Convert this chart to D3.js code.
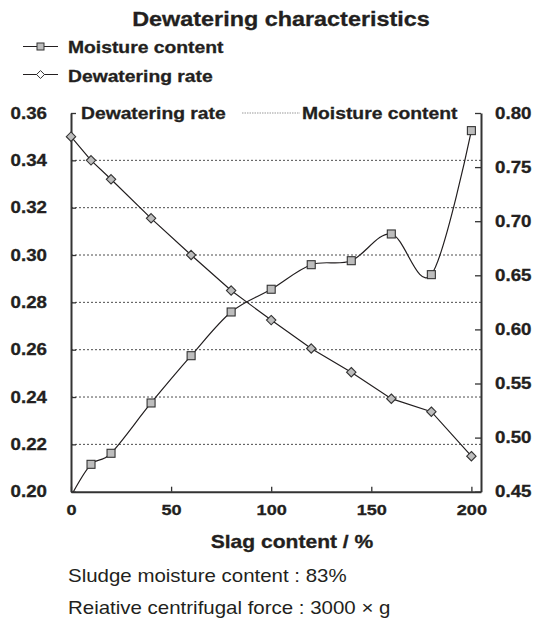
<!DOCTYPE html>
<html lang="en">

<head>
    <meta charset="UTF-8">
    <title>Dewatering characteristics</title>
    <script src="https://d3js.org/d3.v7.min.js"></script>
    <style>
        body { margin: 0; background: #fff; }
        text { font-family: "Liberation Sans", Arial, sans-serif; fill: #231f20; }
        text.b { stroke: #231f20; stroke-width: 0.3px; }
    </style>
</head>

<body>
    <div id="chart"></div>

    <script>
        // slag content (%) for each measurement
        var slag = [0, 10, 20, 40, 60, 80, 100, 120, 140, 160, 180, 200];
        // dewatering rate, left axis
        var dewateringRate = [0.350, 0.340, 0.332, 0.3155, 0.300, 0.285, 0.2725, 0.2605, 0.2505, 0.2393, 0.2338, 0.2150];
        // moisture content, right axis (first point falls below the axis and is clipped)
        var moistureSlag = [0, 10, 20, 40, 60, 80, 100, 120, 140, 160, 180, 200];
        var moisture = [0.446, 0.4753, 0.4855, 0.532, 0.5757, 0.6161, 0.6371, 0.6598, 0.6635, 0.6882, 0.6506, 0.7837];

        var xTicks = [0, 50, 100, 150, 200];
        var leftTicks = [0.20, 0.22, 0.24, 0.26, 0.28, 0.30, 0.32, 0.34, 0.36];
        var gridTicks = [0.22, 0.24, 0.26, 0.28, 0.30, 0.32, 0.34];
        var rightTicks = [0.45, 0.50, 0.55, 0.60, 0.65, 0.70, 0.75, 0.80];

        var W = 533, H = 621;
        var pLeft = 71, pRight = 481, pTop = 113, pBottom = 491.7;
        var SX = 1.17; // horizontal stretch of the lettering in the source

        var svg = d3.select("#chart").append("svg")
            .attr("width", W)
            .attr("height", H);

        svg.append("rect").attr("width", W).attr("height", H).attr("fill", "#fff");

        var x = d3.scaleLinear().domain([0, 204.8]).range([pLeft, pRight]);
        var yL = d3.scaleLinear().domain([0.20, 0.36]).range([pBottom, pTop]);
        var yR = d3.scaleLinear().domain([0.45, 0.80]).range([pBottom, pTop]);

        function label(px, py, txt, size, weight, anchor) {
            return svg.append("text")
                .attr("class", weight === "normal" ? null : "b")
                .attr("transform", "translate(" + px + "," + py + ") scale(" + SX + ",1)")
                .attr("font-size", size)
                .attr("font-weight", weight || "bold")
                .attr("text-anchor", anchor || "start")
                .text(txt);
        }

        // title and legend
        label(281, 26, "Dewatering characteristics", 20, "bold", "middle");

        var legend = svg.append("g");
        legend.append("line").attr("x1", 23).attr("x2", 58).attr("y1", 46.5).attr("y2", 46.5)
            .attr("stroke", "#231f20").attr("stroke-width", 1.1);
        legend.append("rect").attr("x", 37).attr("y", 43).attr("width", 7).attr("height", 7)
            .attr("fill", "#bdbdbd").attr("stroke", "#333").attr("stroke-width", 1);
        legend.append("line").attr("x1", 23).attr("x2", 58).attr("y1", 74.5).attr("y2", 74.5)
            .attr("stroke", "#231f20").attr("stroke-width", 1.1);
        legend.append("path").attr("d", d3.symbol(d3.symbolDiamond2, 40)())
            .attr("transform", "translate(40.5,74.5)")
            .attr("fill", "#fff").attr("stroke", "#333").attr("stroke-width", 1);
        label(68, 53, "Moisture content", 16.5);
        label(68, 82, "Dewatering rate", 16.5);

        // grid
        svg.append("g")
            .selectAll("line")
            .data(gridTicks)
            .enter().append("line")
            .attr("x1", pLeft).attr("x2", pRight)
            .attr("y1", function (d) { return yL(d); })
            .attr("y2", function (d) { return yL(d); })
            .attr("stroke", "#4d4d4d")
            .attr("stroke-width", 1)
            .attr("stroke-dasharray", "2,2");

        // axes
        var axL = svg.append("g")
            .attr("transform", "translate(" + pLeft + ",0)")
            .call(d3.axisLeft(yL).tickValues(leftTicks).tickSize(-5).tickSizeOuter(0)
                .tickPadding(20.5).tickFormat(d3.format(".2f")));

        var axR = svg.append("g")
            .attr("transform", "translate(" + pRight + ",0)")
            .call(d3.axisRight(yR).tickValues(rightTicks).tickSize(-6).tickSizeOuter(0)
                .tickPadding(12).tickFormat(d3.format(".2f")));

        var axB = svg.append("g")
            .attr("transform", "translate(0," + pBottom + ")")
            .call(d3.axisBottom(x).tickValues(xTicks).tickSize(-5).tickSizeOuter(0)
                .tickPadding(12.6));

        [axL, axR, axB].forEach(function (ax) {
            ax.select(".domain").attr("stroke", "#333").attr("stroke-width", 2);
            ax.selectAll(".tick line").attr("stroke", "#333").attr("stroke-width", 1.3);
            ax.selectAll(".tick text")
                .attr("class", "b")
                .attr("font-family", "Liberation Sans, Arial, sans-serif")
                .attr("font-weight", "bold")
                .attr("font-size", 16)
                .attr("fill", "#231f20")
                .attr("transform", "scale(" + SX + ",1)");
        });
        axB.selectAll(".tick text").attr("font-size", 15.5);

        // axis titles sitting on the top edge
        label(81, 118.5, "Dewatering rate", 16.5);
        svg.append("line").attr("x1", 242).attr("x2", 300).attr("y1", 113).attr("y2", 113)
            .attr("stroke", "#9a9a9a").attr("stroke-width", 1.2).attr("stroke-dasharray", "1.5,1");
        label(302, 118.5, "Moisture content", 16.5);

        // series
        svg.append("clipPath").attr("id", "plot-clip")
            .append("rect").attr("x", pLeft).attr("y", pTop).attr("width", pRight - pLeft).attr("height", pBottom - pTop);

        var rateData = slag.map(function (s, i) { return { x: s, y: dewateringRate[i] }; });
        var moistData = moistureSlag.map(function (s, i) { return { x: s, y: moisture[i] }; });

        var plot = svg.append("g").attr("clip-path", "url(#plot-clip)");

        plot.append("path")
            .datum(moistData)
            .attr("fill", "none")
            .attr("stroke", "#231f20")
            .attr("stroke-width", 1.2)
            .attr("d", d3.line()
                .x(function (d) { return x(d.x); })
                .y(function (d) { return yR(d.y); })
                .curve(d3.curveCardinal.tension(0)));

        plot.append("path")
            .datum(rateData)
            .attr("fill", "none")
            .attr("stroke", "#231f20")
            .attr("stroke-width", 1.2)
            .attr("d", d3.line()
                .x(function (d) { return x(d.x); })
                .y(function (d) { return yL(d.y); }));

        svg.append("g")
            .selectAll("rect")
            .data(moistData.filter(function (d) { return yR(d.y) <= pBottom; }))
            .enter().append("rect")
            .attr("x", function (d) { return x(d.x) - 4; })
            .attr("y", function (d) { return yR(d.y) - 4; })
            .attr("width", 8)
            .attr("height", 8)
            .attr("fill", "#bdbdbd")
            .attr("stroke", "#333")
            .attr("stroke-width", 1.1);

        svg.append("g")
            .selectAll("path")
            .data(rateData)
            .enter().append("path")
            .attr("d", d3.symbol(d3.symbolDiamond2, 56)())
            .attr("transform", function (d) { return "translate(" + x(d.x) + "," + yL(d.y) + ")"; })
            .attr("fill", "#bdbdbd")
            .attr("stroke", "#333")
            .attr("stroke-width", 1.1);

        // axis title and notes
        label(292, 548, "Slag content / %", 18, "bold", "middle");
        label(68, 582, "Sludge moisture content : 83%", 17.5, "normal");
        label(68, 614, "Reiative centrifugal force : 3000 \u00D7 g", 17.5, "normal");
    </script>
</body>
</html>
